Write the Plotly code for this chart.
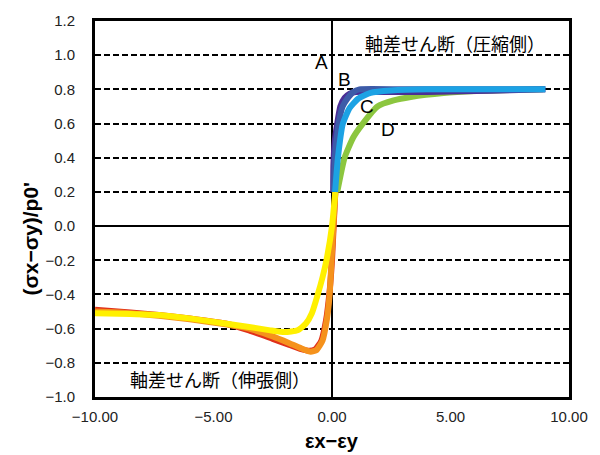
import plotly.graph_objects as go

# ---- data ----
# tension side (extension) curves
red_x = [-10, -8.5, -7.3, -6, -4.5, -3.5, -2.5, -1.8, -1.3, -0.95, -0.7, -0.45, -0.25, -0.1, 0.0, 0.07, 0.14]
red_y = [-0.49, -0.505, -0.52, -0.54, -0.57, -0.61, -0.66, -0.695, -0.72, -0.73, -0.72, -0.67, -0.55, -0.38, -0.2, 0.0, 0.2]
orange_x = [-10, -8.5, -7.3, -6, -4.5, -3.5, -2.5, -1.8, -1.3, -0.9, -0.65, -0.4, -0.22, -0.1, -0.02, 0.06, 0.14]
orange_y = [-0.5, -0.51, -0.525, -0.545, -0.575, -0.6, -0.645, -0.685, -0.715, -0.735, -0.725, -0.67, -0.55, -0.4, -0.2, 0.0, 0.2]
yellow_x = [-10, -8.5, -7.3, -6, -4.5, -3.5, -2.6, -2.0, -1.45, -1.1, -0.85, -0.6, -0.4, -0.22, 0.0, 0.14]
yellow_y = [-0.51, -0.515, -0.52, -0.54, -0.57, -0.59, -0.61, -0.62, -0.61, -0.57, -0.51, -0.4, -0.3, -0.19, 0.0, 0.2]

# compression side curves
a_x = [0.05, 0.06, 0.12, 0.22, 0.35, 0.53, 0.75, 1.0, 2.0, 4.0, 6.0, 7.5, 9.0]
a_y = [0.2, 0.36, 0.5, 0.6, 0.7, 0.75, 0.775, 0.785, 0.785, 0.785, 0.79, 0.795, 0.8]
b_x = [0.08, 0.12, 0.28, 0.45, 0.67, 0.9, 1.16, 3.0, 6.0, 9.0]
b_y = [0.2, 0.4, 0.6, 0.7, 0.75, 0.785, 0.8, 0.8, 0.8, 0.8]
c_x = [0.13, 0.25, 0.46, 0.74, 1.1, 1.63, 2.5, 4.0, 9.0]
c_y = [0.2, 0.4, 0.6, 0.69, 0.745, 0.78, 0.793, 0.8, 0.8]
d_x = [0.22, 0.53, 0.9, 1.3, 1.92, 2.6, 3.32, 4.71, 6.1, 7.5, 8.9]
d_y = [0.2, 0.4, 0.52, 0.6, 0.7, 0.735, 0.755, 0.778, 0.79, 0.797, 0.8]

curve_labels = ["A", "B", "C", "D"]
label_x = [-0.46, 0.54, 1.46, 2.38]
label_y = [0.96, 0.855, 0.70, 0.566]

x_ticks = [-10, -5, 0, 5, 10]
y_ticks = [-1.0, -0.8, -0.6, -0.4, -0.2, 0.0, 0.2, 0.4, 0.6, 0.8, 1.0, 1.2]

fig = go.Figure()

series = [
    (red_x, red_y, "#e0301a"),
    (orange_x, orange_y, "#f5921c"),
    (yellow_x, yellow_y, "#fff000"),
    (d_x, d_y, "#8cc63f"),
    (a_x, a_y, "#4b2e96"),
    (b_x, b_y, "#3d5ba8"),
    (c_x, c_y, "#1ca2e4"),
]
for xs, ys, col in series:
    fig.add_trace(go.Scatter(x=xs, y=ys, mode="lines",
                             line=dict(color=col, width=6, shape="spline", smoothing=0.5),
                             showlegend=False, hoverinfo="skip"))

for t, lx, ly in zip(curve_labels, label_x, label_y):
    fig.add_annotation(x=lx, y=ly, text=t, showarrow=False,
                       font=dict(family="Liberation Sans, Arial", size=19, color="black"))

fig.add_annotation(x=5.2, y=1.072, text="軸差せん断（圧縮側）", showarrow=False,
                   font=dict(family="Noto Sans CJK JP", size=18, color="black"))
fig.add_annotation(x=-4.73, y=-0.896, text="軸差せん断（伸張側）", showarrow=False,
                   font=dict(family="Noto Sans CJK JP", size=18, color="black"))

fig.add_annotation(xref="paper", yref="paper", x=0.5, y=-0.118, xanchor="center", yanchor="middle",
                   text="<b>εx−εy</b>", showarrow=False,
                   font=dict(family="Liberation Sans, Arial", size=20, color="black"))
fig.add_annotation(xref="paper", yref="paper", x=-0.136, y=0.42, xanchor="center", yanchor="middle",
                   text="<b>(σx−σy)/p0'</b>", textangle=-90, showarrow=False,
                   font=dict(family="Liberation Sans, Arial", size=21, color="black"))

fig.update_xaxes(range=[-10, 10], tickvals=x_ticks, tickformat=".2f",
                 showgrid=False, zeroline=True, zerolinecolor="black", zerolinewidth=1.5,
                 showline=True, linecolor="black", linewidth=3, mirror=True,
                 ticks="", ticklabelstandoff=4,
                 tickfont=dict(family="Liberation Sans, Arial", size=15, color="#222"))
fig.update_yaxes(range=[-1.0, 1.2], tickvals=y_ticks, tickformat=".1f",
                 showgrid=True, gridcolor="black", gridwidth=1.5, griddash="6px,3px",
                 zeroline=True, zerolinecolor="black", zerolinewidth=1.5,
                 showline=True, linecolor="black", linewidth=3, mirror=True,
                 ticks="", ticklabelstandoff=14,
                 tickfont=dict(family="Liberation Sans, Arial", size=15, color="#222"))

fig.update_layout(width=600, height=455, margin=dict(l=95, r=27, t=15, b=58),
                  plot_bgcolor="white", paper_bgcolor="white")

fig.write_html("out.html")
